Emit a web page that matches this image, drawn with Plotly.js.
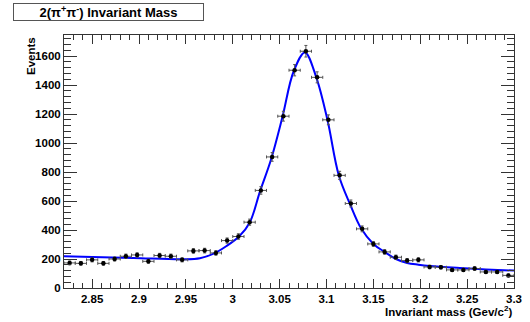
<!DOCTYPE html>
<html>
<head>
<meta charset="utf-8">
<script src="https://cdn.plot.ly/plotly-3.0.1.min.js"></script>
<style>html,body{margin:0;padding:0;background:#fff;}#chart{width:530px;height:322px;}</style>
</head>
<body>
<div id="chart"></div>
<script>
// Histogram bins (bin centres, GeV/c^2)
const binCenters = [2.826, 2.838, 2.850, 2.862, 2.874, 2.886, 2.898, 2.910, 2.922, 2.934,
  2.946, 2.958, 2.970, 2.982, 2.994, 3.006, 3.018, 3.030, 3.042, 3.054,
  3.066, 3.078, 3.090, 3.102, 3.114, 3.126, 3.138, 3.150, 3.162, 3.174,
  3.186, 3.198, 3.210, 3.222, 3.234, 3.246, 3.258, 3.270, 3.282, 3.294];
const binHalfWidth = 0.006;
const counts = [173, 170, 194, 170, 200, 219, 228, 184, 224, 219,
  194, 256, 258, 242, 327, 355, 454, 673, 904, 1185,
  1502, 1633, 1453, 1160, 777, 583, 408, 304, 249, 212,
  189, 194, 145, 143, 125, 125, 134, 111, 111, 87];
const countErrors = [13, 13, 14, 13, 14, 15, 15, 14, 15, 15,
  14, 16, 16, 16, 18, 19, 21, 26, 30, 34,
  39, 40, 38, 34, 28, 24, 20, 17, 16, 15,
  14, 14, 12, 12, 11, 11, 12, 11, 11, 9];
// Fit curve samples
const fitX = [2.82, 2.85, 2.894, 2.947, 2.965, 2.979, 2.993, 3.007, 3.018, 3.029,
  3.041, 3.053, 3.065, 3.077, 3.089, 3.101, 3.113, 3.125, 3.137, 3.150,
  3.162, 3.174, 3.186, 3.198, 3.21, 3.242, 3.27, 3.3];
const fitY = [219, 213, 207, 198, 205, 235, 288, 357, 450, 665,
  890, 1180, 1495, 1625, 1455, 1160, 780, 580, 410, 304,
  249, 200, 173, 161, 152, 138, 128, 120];
const xTickVals = [2.85, 2.9, 2.95, 3, 3.05, 3.1, 3.15, 3.2, 3.25, 3.3];
const xTickText = ['2.85', '2.9', '2.95', '3', '3.05', '3.1', '3.15', '3.2', '3.25', '3.3'];
const titleText = '2(π<sup>+</sup>π<sup>-</sup>) Invariant Mass';
const xTitleText = 'Invariant mass (Gev/c<sup>2</sup>)';
const yTitleText = 'Events';

const FONT = 'Liberation Sans, Arial, Helvetica, sans-serif';
const axisColor = '#333';

const traces = [
  {
    x: fitX, y: fitY, type: 'scatter', mode: 'lines',
    line: {color: '#0000ff', width: 2, shape: 'spline', smoothing: 1},
    hoverinfo: 'skip'
  },
  {
    x: binCenters, y: counts, type: 'scatter', mode: 'markers',
    marker: {color: '#000', size: 4.5},
    error_y: {type: 'data', array: countErrors, visible: true, color: '#555', thickness: 1, width: 1.5},
    error_x: {type: 'constant', value: binHalfWidth, visible: true, color: '#555', thickness: 1, width: 1.5}
  }
];

const layout = {
  width: 530, height: 322,
  margin: {l: 64, r: 16, t: 35, b: 34},
  paper_bgcolor: '#fff', plot_bgcolor: '#fff',
  showlegend: false,
  font: {family: FONT, color: '#000', size: 11.5, weight: 'bold'},
  xaxis: {
    range: [2.82, 3.3], tickvals: xTickVals, ticktext: xTickText,
    ticks: 'inside', ticklen: 9, tickcolor: axisColor, tickwidth: 1,
    showline: true, linecolor: axisColor, linewidth: 1, mirror: 'allticks',
    showgrid: false, zeroline: false,
    tickfont: {family: FONT, size: 11.5, color: '#000', weight: 'bold'},
    minor: {dtick: 0.01, ticklen: 5, tickcolor: axisColor, ticks: 'inside', showgrid: false}
  },
  yaxis: {
    range: [0, 1745], dtick: 200, tick0: 0,
    ticks: 'inside', ticklen: 13, tickcolor: axisColor, tickwidth: 1,
    showline: true, linecolor: axisColor, linewidth: 1, mirror: 'allticks',
    showgrid: false, zeroline: false,
    tickfont: {family: FONT, size: 11.5, color: '#000', weight: 'bold'},
    minor: {dtick: 40, ticklen: 7, tickcolor: axisColor, ticks: 'inside', showgrid: false}
  },
  annotations: [
    {
      text: titleText, xref: 'paper', yref: 'paper',
      x: (108.5 - 64) / 450, y: (288 - 12) / 253, xanchor: 'center', yanchor: 'middle',
      showarrow: false, width: 189, height: 16, borderpad: 0,
      bordercolor: '#555', borderwidth: 1, bgcolor: '#fff',
      font: {family: FONT, size: 13, color: '#000', weight: 'bold'}
    },
    {
      text: xTitleText, xref: 'paper', yref: 'paper',
      x: 1, y: (288 - 311) / 253, xanchor: 'right', yanchor: 'middle',
      showarrow: false,
      font: {family: FONT, size: 11.5, color: '#000', weight: 'bold'}
    },
    {
      text: yTitleText, xref: 'paper', yref: 'paper',
      x: (29 - 64) / 450, y: 1, xanchor: 'center', yanchor: 'top',
      xshift: 2, textangle: -90, showarrow: false,
      font: {family: FONT, size: 11.5, color: '#000', weight: 'bold'}
    }
  ]
};

Plotly.newPlot('chart', traces, layout, {staticPlot: true, displayModeBar: false});
</script>
</body>
</html>
